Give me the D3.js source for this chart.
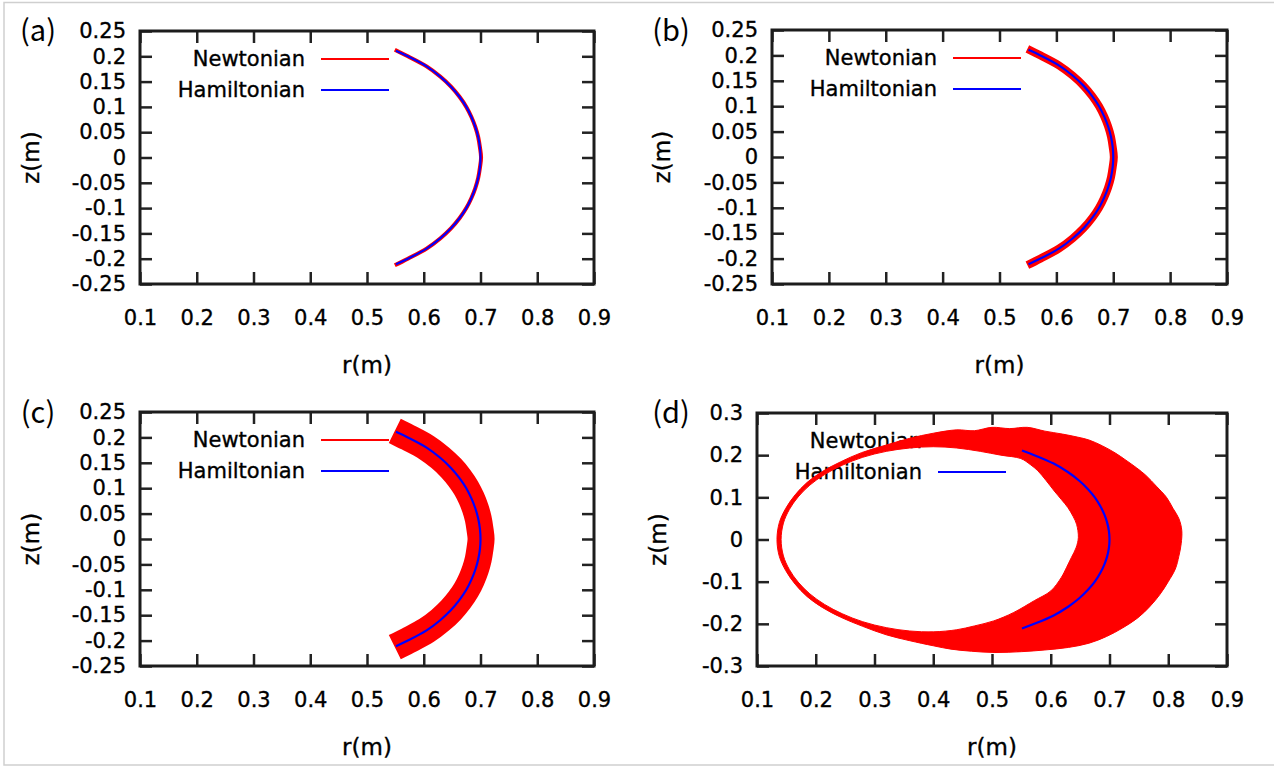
<!DOCTYPE html>
<html><head><meta charset="utf-8">
<script src="https://cdn.jsdelivr.net/npm/d3@7"></script>
<style>
body{margin:0;background:#fff}
svg{display:block}
text{font-family:"DejaVu Sans",Verdana,sans-serif;fill:#000}
</style>
</head><body>
<svg id="chart" width="1274" height="767"></svg>
<script>
// ---------------- data ----------------
const panelNames = ["(a)", "(b)", "(c)", "(d)"];
const seriesNames = ["Newtonian", "Hamiltonian"];
const xTickValues = [0.1, 0.2, 0.3, 0.4, 0.5, 0.6, 0.7, 0.8, 0.9];
const xTickLabels = ["0.1", "0.2", "0.3", "0.4", "0.5", "0.6", "0.7", "0.8", "0.9"];
const yTickValuesABC = [-0.25, -0.2, -0.15, -0.1, -0.05, 0, 0.05, 0.1, 0.15, 0.2, 0.25];
const yTickLabelsABC = ["-0.25", "-0.2", "-0.15", "-0.1", "-0.05", "0", "0.05", "0.1", "0.15", "0.2", "0.25"];
const yTickValuesD = [-0.3, -0.2, -0.1, 0, 0.1, 0.2, 0.3];
const yTickLabelsD = ["-0.3", "-0.2", "-0.1", "0", "0.1", "0.2", "0.3"];

// Hamiltonian orbit (same in all panels)
const hamR = [0.551, 0.572, 0.605, 0.629, 0.648, 0.663, 0.675, 0.684, 0.691, 0.696, 0.699, 0.700, 0.699, 0.696, 0.691, 0.684, 0.675, 0.663, 0.648, 0.629, 0.605, 0.572, 0.551];
const hamZ = [0.211, 0.200, 0.180, 0.160, 0.140, 0.120, 0.100, 0.080, 0.060, 0.040, 0.020, 0.000, -0.020, -0.040, -0.060, -0.080, -0.100, -0.120, -0.140, -0.160, -0.180, -0.200, -0.211];

// Newtonian guiding orbit for panels (a)-(c)
const newtonR = [0.549, 0.572, 0.605, 0.629, 0.648, 0.663, 0.675, 0.684, 0.691, 0.696, 0.699, 0.701, 0.699, 0.696, 0.691, 0.684, 0.675, 0.663, 0.648, 0.629, 0.605, 0.572, 0.549];
const newtonZ = [0.213, 0.200, 0.180, 0.160, 0.140, 0.120, 0.100, 0.080, 0.060, 0.040, 0.020, 0.000, -0.020, -0.040, -0.060, -0.080, -0.100, -0.120, -0.140, -0.160, -0.180, -0.200, -0.213];

// Newtonian orbit region for panel (d): outer envelope and inner hole
const newtonDOuterR = [0.134, 0.138, 0.149, 0.165, 0.185, 0.211, 0.242, 0.278, 0.320, 0.360, 0.400, 0.440, 0.470, 0.500, 0.530, 0.560, 0.590, 0.620, 0.645, 0.665, 0.688, 0.710, 0.728, 0.746, 0.762, 0.780, 0.797, 0.808, 0.818, 0.823, 0.822, 0.818, 0.812, 0.800, 0.786, 0.768, 0.748, 0.722, 0.695, 0.665, 0.630, 0.590, 0.550, 0.505, 0.465, 0.430, 0.400, 0.360, 0.320, 0.280, 0.242, 0.211, 0.185, 0.165, 0.149, 0.138];
const newtonDOuterZ = [0.000, 0.040, 0.074, 0.106, 0.135, 0.161, 0.184, 0.206, 0.224, 0.240, 0.252, 0.260, 0.258, 0.266, 0.263, 0.266, 0.257, 0.250, 0.243, 0.236, 0.222, 0.205, 0.188, 0.170, 0.152, 0.126, 0.100, 0.074, 0.050, 0.022, -0.010, -0.040, -0.070, -0.100, -0.130, -0.160, -0.186, -0.210, -0.230, -0.246, -0.256, -0.262, -0.266, -0.268, -0.265, -0.260, -0.252, -0.240, -0.226, -0.206, -0.184, -0.161, -0.135, -0.106, -0.074, -0.040];
const newtonDInnerR = [0.141, 0.145, 0.155, 0.170, 0.190, 0.215, 0.245, 0.280, 0.320, 0.360, 0.400, 0.440, 0.480, 0.515, 0.549, 0.565, 0.578, 0.592, 0.606, 0.618, 0.629, 0.638, 0.644, 0.647, 0.643, 0.635, 0.627, 0.618, 0.600, 0.572, 0.537, 0.503, 0.470, 0.440, 0.400, 0.360, 0.320, 0.280, 0.245, 0.215, 0.190, 0.170, 0.155, 0.145];
const newtonDInnerZ = [0.000, 0.039, 0.071, 0.101, 0.129, 0.154, 0.176, 0.195, 0.209, 0.217, 0.220, 0.217, 0.209, 0.200, 0.192, 0.178, 0.163, 0.140, 0.115, 0.095, 0.076, 0.055, 0.036, 0.005, -0.020, -0.043, -0.066, -0.090, -0.122, -0.145, -0.173, -0.193, -0.205, -0.214, -0.219, -0.217, -0.209, -0.195, -0.176, -0.154, -0.129, -0.101, -0.071, -0.039];

// ---------------- layout ----------------
const svg = d3.select("#chart");
svg.append("rect").attr("width", 1274).attr("height", 767).attr("fill", "#fff");
svg.append("rect").attr("x", 4).attr("y", 2.5).attr("width", 1290).attr("height", 762.5)
  .attr("fill", "none").attr("stroke", "#cfcfcf").attr("stroke-width", 1.5);

const panels = [
  {name: panelNames[0], left: 140, right: 594, top: 31, bottom: 284, yv: yTickValuesABC, yl: yTickLabelsABC, ydom: [-0.25, 0.25], band: 4, lab: [38, 28], zx: 31, kind: "arc"},
  {name: panelNames[1], left: 772, right: 1227, top: 30, bottom: 284, yv: yTickValuesABC, yl: yTickLabelsABC, ydom: [-0.25, 0.25], band: 8, lab: [671, 28], zx: 662, kind: "arc"},
  {name: panelNames[2], left: 140, right: 594, top: 412, bottom: 666, yv: yTickValuesABC, yl: yTickLabelsABC, ydom: [-0.25, 0.25], band: 27, lab: [38, 410], zx: 31, kind: "arc"},
  {name: panelNames[3], left: 757, right: 1227, top: 413, bottom: 666, yv: yTickValuesD, yl: yTickLabelsD, ydom: [-0.3, 0.3], band: 0, lab: [671, 410], zx: 658, kind: "region"}
];

const FS = 21;
const hamPts = hamR.map((r, i) => [r, hamZ[i]]);
const newtonPts = newtonR.map((r, i) => [r, newtonZ[i]]);
const outerPts = newtonDOuterR.map((r, i) => [r, newtonDOuterZ[i]]);
const innerPts = newtonDInnerR.map((r, i) => [r, newtonDInnerZ[i]]);

const boldText = sel => sel.attr("stroke", "#000").attr("stroke-width", 0.35);

panels.forEach(p => {
  const x = d3.scaleLinear().domain([0.1, 0.9]).range([p.left, p.right]);
  const y = d3.scaleLinear().domain(p.ydom).range([p.bottom, p.top]);
  const g = svg.append("g");
  const W = p.right - p.left, H = p.bottom - p.top;

  const styleAxis = sel => {
    sel.select(".domain").remove();
    sel.selectAll(".tick line").attr("stroke", "#222").attr("stroke-width", 2.5);
    sel.selectAll(".tick text").style("font-size", FS + "px").style("font-family", "DejaVu Sans")
      .attr("fill", "#000").call(boldText);
  };

  g.append("g").attr("transform", `translate(0,${p.bottom})`)
    .call(d3.axisBottom(x).tickValues(xTickValues).tickFormat((d, i) => xTickLabels[i]).tickSize(-12).tickPadding(26))
    .call(styleAxis);
  g.append("g").attr("transform", `translate(0,${p.top})`)
    .call(d3.axisTop(x).tickValues(xTickValues).tickFormat("").tickSize(-12))
    .call(styleAxis);
  g.append("g").attr("transform", `translate(${p.left},0)`)
    .call(d3.axisLeft(y).tickValues(p.yv).tickFormat((d, i) => p.yl[i]).tickSize(-12).tickPadding(14))
    .call(styleAxis);
  g.append("g").attr("transform", `translate(${p.right},0)`)
    .call(d3.axisRight(y).tickValues(p.yv).tickFormat("").tickSize(-12))
    .call(styleAxis);

  g.append("rect").attr("x", p.left).attr("y", p.top).attr("width", W).attr("height", H)
    .attr("fill", "none").attr("stroke", "#1c1c1c").attr("stroke-width", 3);

  g.append("text").attr("x", (p.left + p.right) / 2).attr("y", p.bottom + 81)
    .attr("text-anchor", "middle").attr("dominant-baseline", "central")
    .style("font-size", "23px").call(boldText).text("r(m)");
  g.append("text").attr("transform", `translate(${p.zx},${(p.top + p.bottom) / 2}) rotate(-90)`)
    .attr("text-anchor", "middle").attr("dominant-baseline", "central")
    .style("font-size", "23px").call(boldText).text("z(m)");

  g.append("text").attr("x", p.lab[0]).attr("y", p.lab[1])
    .attr("text-anchor", "middle").attr("dominant-baseline", "central")
    .style("font-family", "'Noto Sans CJK JP','Noto Sans',sans-serif").style("font-size", "29px")
    .attr("fill", "#222").text(p.name);

  const ky = [p.top + 28, p.top + 59];
  const kcol = ["#ff0000", "#0000ff"];
  seriesNames.forEach((s, i) => {
    g.append("text").attr("x", p.left + 165).attr("y", ky[i]).attr("text-anchor", "end")
      .attr("dominant-baseline", "central").style("font-size", FS + "px").call(boldText).text(s);
    g.append("line").attr("x1", p.left + 181).attr("x2", p.left + 249).attr("y1", ky[i]).attr("y2", ky[i])
      .attr("stroke", kcol[i]).attr("stroke-width", 2);
  });

  const line = d3.line().x(d => x(d[0])).y(d => y(d[1])).curve(d3.curveCatmullRom);
  if (p.kind === "arc") {
    g.append("path").attr("d", line(newtonPts)).attr("fill", "none")
      .attr("stroke", "#ff0000").attr("stroke-width", p.band).attr("stroke-linecap", "butt");
  } else {
    const closed = d3.line().x(d => x(d[0])).y(d => y(d[1])).curve(d3.curveCatmullRomClosed);
    g.append("path").attr("d", closed(outerPts) + closed(innerPts))
      .attr("fill", "#ff0000").attr("fill-rule", "evenodd")
      .attr("stroke", "#ff0000").attr("stroke-width", 1);
  }
  g.append("path").attr("d", line(hamPts)).attr("fill", "none")
    .attr("stroke", "#0000ff").attr("stroke-width", 2.2);
});
</script>
</body></html>
